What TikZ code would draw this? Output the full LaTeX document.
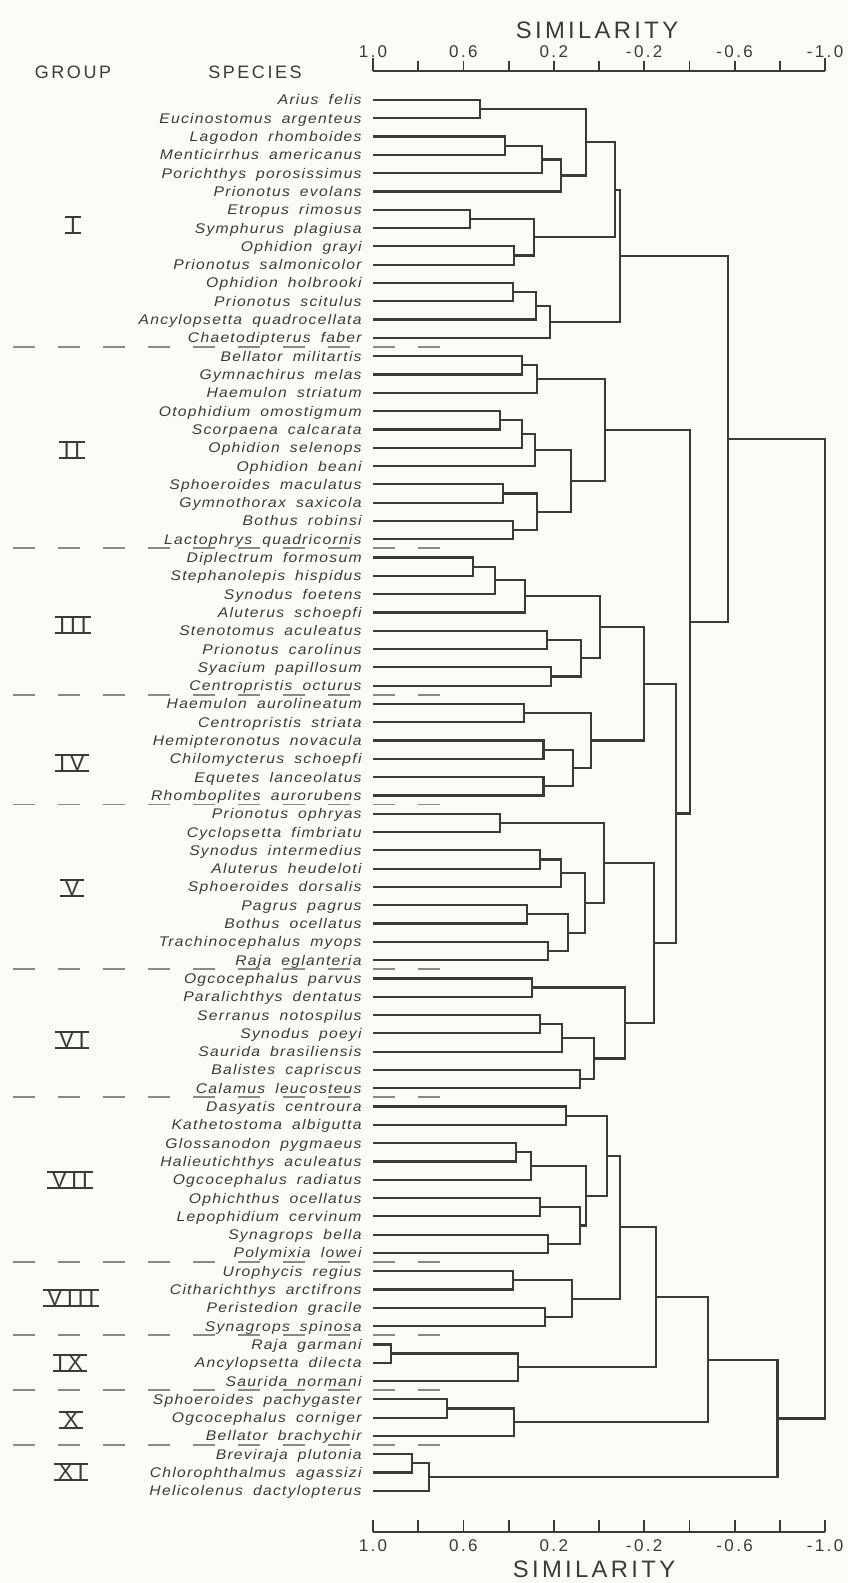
\documentclass[tikz,border=0pt]{standalone}
\usepackage{fontspec}
\setsansfont{Liberation Sans}
\newfontfamily\spfont[FakeStretch=1.12,LetterSpace=9,WordSpace=1.8]{Liberation Sans}
\newfontfamily\hdfont[LetterSpace=14]{Liberation Sans}
\newfontfamily\grfont[LetterSpace=20]{Liberation Sans}
\usetikzlibrary{calc}

\definecolor{ink}{HTML}{3A3A38}
\definecolor{paper}{HTML}{FCFCF7}

\tikzset{
  species/.style={anchor=base east, inner sep=0pt, text=ink, font=\spfont\itshape\fontsize{7}{8}\selectfont},
  tree/.style={draw=ink, line width=1.1pt},
  axis/.style={draw=ink, line width=0.9pt},
  grp/.style={text=ink, inner xsep=2pt, inner ysep=0pt, font=\grfont\fontsize{11.2}{12}\selectfont},
  bar/.style={draw=ink, line width=0.9pt},
  sep/.style={draw=ink!60, line width=0.9pt, dash pattern=on 11pt off 11.5pt},
  axlab/.style={text=ink, inner sep=0pt, font=\hdfont\fontsize{8.5}{9}\selectfont},
  head/.style={text=ink, inner sep=0pt, font=\hdfont\fontsize{9}{10}\selectfont},
  title/.style={text=ink, inner sep=0pt, font=\hdfont\fontsize{11.9}{13}\selectfont},
}

% join two branches at a given similarity
\newcommand\mrg[4]{%
  \coordinate (#1m) at ($(#3)!.5!(#4)$);
  \coordinate (tmp) at ({599-226*(#2)},0);
  \coordinate (#1) at (tmp |- #1m);
  \draw[tree] (#3) -| (#1) |- (#4);
}

\begin{document}
\begin{tikzpicture}[x=0.5pt,y=-0.5pt]
\fill[paper] (0,0) rectangle (848,1583);
\useasboundingbox (0,0) rectangle (848,1583);

% axes
\node[title] (ttop) at (597,30) {SIMILARITY};
\node[head] (group) at (73,72) {GROUP};
\node[head] (spec) at (255,72) {SPECIES};
\draw[axis] (373,70.7) -- (825,70.7);
\draw[axis] (373,1531.7) -- (825,1531.7);
\foreach \k in {0,...,10}{
  \draw[axis] ({373+45.2*\k},70.7) -- ++(0,-10);
  \draw[axis] ({373+45.2*\k},1531.7) -- ++(0,-12);
}
\draw[axis] (373,70.7) -- ++(0,-13) (825,70.7) -- ++(0,-13);
\foreach \v [count=\j from 0] in {1.0,0.6,0.2,-0.2,-0.6,-1.0}{
  \node[axlab] (tt\j) at ({373+90.4*\j},52) {\v};
  \node[axlab] (tb\j) at ({373+90.4*\j},1546) {\v};
}
\node[title] (tbot) at (594,1569) {SIMILARITY};

% species
\foreach \nm [count=\i from 0] in {Arius felis, Eucinostomus argenteus, Lagodon rhomboides,
  Menticirrhus americanus, Porichthys porosissimus, Prionotus evolans, Etropus rimosus,
  Symphurus plagiusa, Ophidion grayi, Prionotus salmonicolor, Ophidion holbrooki,
  Prionotus scitulus, Ancylopsetta quadrocellata, Chaetodipterus faber,
  Bellator militartis, Gymnachirus melas, Haemulon striatum, Otophidium omostigmum,
  Scorpaena calcarata, Ophidion selenops, Ophidion beani, Sphoeroides maculatus,
  Gymnothorax saxicola, Bothus robinsi, Lactophrys quadricornis,
  Diplectrum formosum, Stephanolepis hispidus, Synodus foetens, Aluterus schoepfi,
  Stenotomus aculeatus, Prionotus carolinus, Syacium papillosum, Centropristis octurus,
  Haemulon aurolineatum, Centropristis striata, Hemipteronotus novacula,
  Chilomycterus schoepfi, Equetes lanceolatus, Rhomboplites aurorubens,
  Prionotus ophryas, Cyclopsetta fimbriatu, Synodus intermedius, Aluterus heudeloti,
  Sphoeroides dorsalis, Pagrus pagrus, Bothus ocellatus, Trachinocephalus myops,
  Raja eglanteria,
  Ogcocephalus parvus, Paralichthys dentatus, Serranus notospilus, Synodus poeyi,
  Saurida brasiliensis, Balistes capriscus, Calamus leucosteus,
  Dasyatis centroura, Kathetostoma albigutta, Glossanodon pygmaeus,
  Halieutichthys aculeatus, Ogcocephalus radiatus, Ophichthus ocellatus,
  Lepophidium cervinum, Synagrops bella, Polymixia lowei,
  Urophycis regius, Citharichthys arctifrons, Peristedion gracile, Synagrops spinosa,
  Raja garmani, Ancylopsetta dilecta, Saurida normani,
  Sphoeroides pachygaster, Ogcocephalus corniger, Bellator brachychir,
  Breviraja plutonia, Chlorophthalmus agassizi, Helicolenus dactylopterus}{
  \node[species] (sp\i) at (362,{105+18.3*\i}) {\nm};
  \coordinate (l\i) at (373,{100+18.3*\i});
}

% group limits
\foreach \s in {13,24,32,38,47,54,63,67,70,73}
  \draw[sep] (13,{100+18.3*(\s+.5)}) -- (445,{100+18.3*(\s+.5)});

\node[grp] (gI) at (73,225) {I};
\node[grp] (gII) at (72,450) {II};
\node[grp] (gIII) at (73,625) {III};
\node[grp] (gIV) at (72,763) {IV};
\node[grp] (gV) at (72,888) {V};
\node[grp] (gVI) at (72,1040) {VI};
\node[grp] (gVII) at (70,1180) {VII};
\node[grp] (gVIII) at (71,1298) {VIII};
\node[grp] (gIX) at (70,1363) {IX};
\node[grp] (gX) at (71,1420) {X};
\node[grp] (gXI) at (71,1472) {XI};
\foreach \g in {gI,gII,gIII,gIV,gV,gVI,gVII,gVIII,gIX,gX,gXI}
  \draw[bar] (\g.north west) -- (\g.north east) (\g.south west) -- (\g.south east);

% group I
\mrg{a1}{0.527}{l0}{l1}
\mrg{a2}{0.416}{l2}{l3}
\mrg{a3}{0.251}{a2}{l4}
\mrg{a4}{0.169}{a3}{l5}
\mrg{a5}{0.058}{a1}{a4}
\mrg{a6}{0.571}{l6}{l7}
\mrg{a7}{0.375}{l8}{l9}
\mrg{a8}{0.286}{a6}{a7}
\mrg{a9}{0.379}{l10}{l11}
\mrg{a10}{0.279}{a9}{l12}
\mrg{a11}{0.217}{a10}{l13}
\mrg{a12}{-0.071}{a5}{a8}
\mrg{a13}{-0.093}{a12}{a11}
% group II
\mrg{b1}{0.339}{l14}{l15}
\mrg{b2}{0.273}{b1}{l16}
\mrg{b3}{0.438}{l17}{l18}
\mrg{b4}{0.339}{b3}{l19}
\mrg{b5}{0.283}{b4}{l20}
\mrg{b6}{0.426}{l21}{l22}
\mrg{b7}{0.382}{l23}{l24}
\mrg{b8}{0.276}{b6}{b7}
\mrg{b9}{0.125}{b5}{b8}
\mrg{b10}{-0.027}{b2}{b9}
% group III
\mrg{c1}{0.556}{l25}{l26}
\mrg{c2}{0.460}{c1}{l27}
\mrg{c3}{0.327}{c2}{l28}
\mrg{c4}{0.231}{l29}{l30}
\mrg{c5}{0.212}{l31}{l32}
\mrg{c6}{0.080}{c4}{c5}
\mrg{c7}{-0.004}{c3}{c6}
% group IV
\mrg{d1}{0.331}{l33}{l34}
\mrg{d2}{0.246}{l35}{l36}
\mrg{d3}{0.246}{l37}{l38}
\mrg{d4}{0.114}{d2}{d3}
\mrg{d5}{0.037}{d1}{d4}
\mrg{d6}{-0.200}{c7}{d5}
% group V
\mrg{e1}{0.438}{l39}{l40}
\mrg{e2}{0.261}{l41}{l42}
\mrg{e3}{0.168}{e2}{l43}
\mrg{e4}{0.320}{l44}{l45}
\mrg{e5}{0.227}{l46}{l47}
\mrg{e6}{0.136}{e4}{e5}
\mrg{e7}{0.062}{e3}{e6}
\mrg{e8}{-0.022}{e1}{e7}
% group VI
\mrg{f1}{0.295}{l48}{l49}
\mrg{f2}{0.261}{l50}{l51}
\mrg{f3}{0.162}{f2}{l52}
\mrg{f4}{0.084}{l53}{l54}
\mrg{f5}{0.021}{f3}{f4}
\mrg{f6}{-0.115}{f1}{f5}
\mrg{f7}{-0.245}{e8}{f6}
\mrg{f8}{-0.341}{d6}{f7}
\mrg{h1}{-0.403}{b10}{f8}
\mrg{h2}{-0.569}{a13}{h1}
% group VII
\mrg{g1}{0.146}{l55}{l56}
\mrg{g2}{0.367}{l57}{l58}
\mrg{g3}{0.302}{g2}{l59}
\mrg{g4}{0.261}{l60}{l61}
\mrg{g5}{0.224}{l62}{l63}
\mrg{g6}{0.084}{g4}{g5}
\mrg{g7}{0.058}{g3}{g6}
\mrg{g8}{-0.034}{g1}{g7}
% group VIII
\mrg{j1}{0.382}{l64}{l65}
\mrg{j2}{0.239}{l66}{l67}
\mrg{j3}{0.121}{j1}{j2}
\mrg{j4}{-0.093}{g8}{j3}
% group IX
\mrg{k1}{0.920}{l68}{l69}
\mrg{k2}{0.358}{k1}{l70}
\mrg{k3}{-0.252}{j4}{k2}
% group X
\mrg{m1}{0.673}{l71}{l72}
\mrg{m2}{0.376}{m1}{l73}
\mrg{m3}{-0.482}{k3}{m2}
% group XI
\mrg{p1}{0.827}{l74}{l75}
\mrg{p2}{0.752}{p1}{l76}
\mrg{p3}{-0.790}{m3}{p2}
\mrg{root}{-1.0}{h2}{p3}
\end{tikzpicture}
\end{document}
